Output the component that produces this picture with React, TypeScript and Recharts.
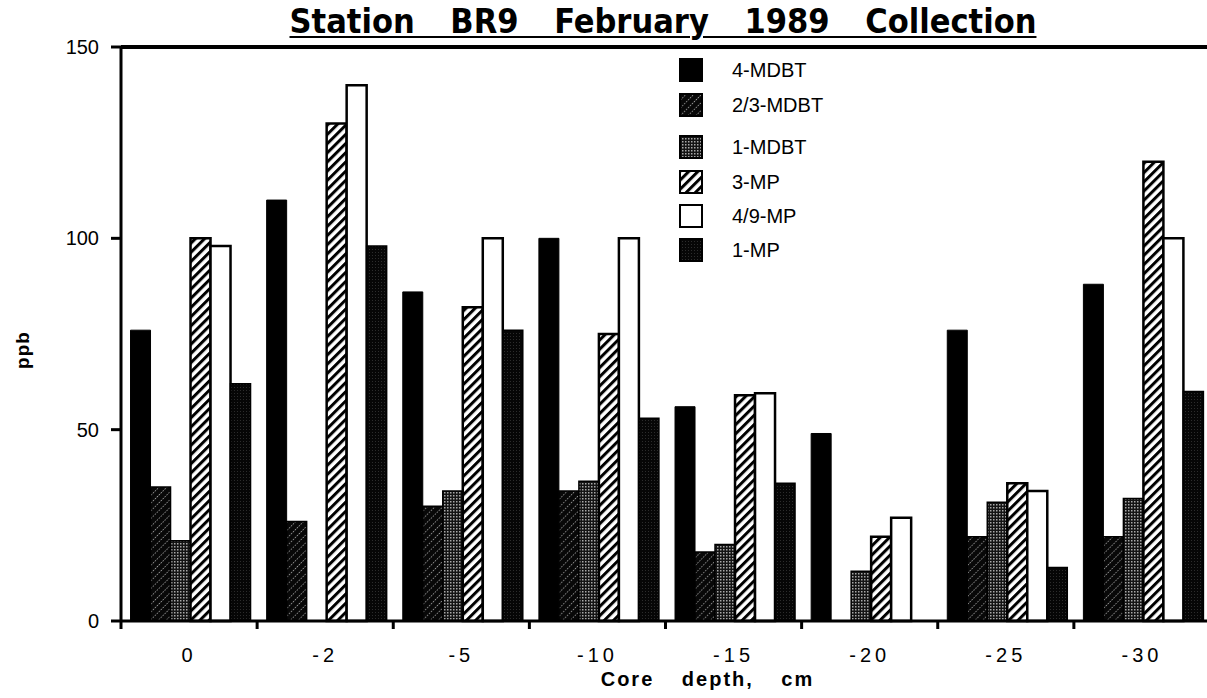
import React from 'react';
import { BarChart, Bar, XAxis, YAxis, ReferenceLine, Legend } from 'recharts';

const categories = ['0', '-2', '-5', '-10', '-15', '-20', '-25', '-30'];
const mdbt4 = [76, 110, 86, 100, 56, 49, 76, 88];
const mdbt23 = [35, 26, 30, 34, 18, null, 22, 22];
const mdbt1 = [21, null, 34, 36.5, 20, 13, 31, 32];
const mp3 = [100, 130, 82, 75, 59, 22, 36, 120];
const mp49 = [98, 140, 100, 100, 59.5, 27, 34, 100];
const mp1 = [62, 98, 76, 53, 36, null, 14, 60];
const yTicks = [0, 50, 100, 150];
const seriesNames = ['4-MDBT', '2/3-MDBT', '1-MDBT', '3-MP', '4/9-MP', '1-MP'];
const seriesKeys = ['mdbt4', 'mdbt23', 'mdbt1', 'mp3', 'mp49', 'mp1'];
const fills = ['#000000', 'url(#p23)', 'url(#p1m)', 'url(#p3mp)', '#ffffff', 'url(#p1mp)'];
const strokeWidths = [1, 1.5, 1.5, 2.5, 2.5, 1.5];

const data = categories.map((c, i) => ({
  cat: c,
  mdbt4: mdbt4[i],
  mdbt23: mdbt23[i],
  mdbt1: mdbt1[i],
  mp3: mp3[i],
  mp49: mp49[i],
  mp1: mp1[i],
}));

const SANS = '"Liberation Sans", Arial, Helvetica, sans-serif';
const NARROW = '"Liberation Sans Narrow", "DejaVu Sans Condensed", "Liberation Sans", sans-serif';

const XTick = (props: any) => {
  const { x, y, payload, width } = props;
  const half = payload && payload.offset ? payload.offset : width / categories.length / 2;
  return (
    <g>
      <line x1={x - half} x2={x - half} y1={y} y2={y + 8} stroke="#000" strokeWidth={3} />
      <text x={x} y={y + 41} textAnchor="middle" fontSize={20} fontFamily={SANS} letterSpacing={4} fill="#000">
        {payload.value}
      </text>
    </g>
  );
};

const legendOffsets = [0, 35, 77, 112, 146, 180];

const LegendContent = () => (
  <div style={{ position: 'relative', width: 200, height: 210, fontFamily: SANS, fontSize: 20, color: '#000' }}>
    {seriesNames.map((n, i) => (
      <div key={n} style={{ position: 'absolute', left: 0, top: legendOffsets[i], height: 36, display: 'flex', alignItems: 'center' }}>
        <svg width={24} height={24} style={{ display: 'block' }}>
          <rect x={1} y={1} width={22} height={22} fill={fills[i]} stroke="#000" strokeWidth={2} />
        </svg>
        <span style={{ marginLeft: 29, whiteSpace: 'nowrap' }}>{n}</span>
      </div>
    ))}
  </div>
);

export default function App() {
  return (
    <div style={{ position: 'absolute', left: 0, top: 0, width: 1207, height: 698, overflow: 'hidden', background: '#fff' }}>
      <BarChart
        width={1210}
        height={698}
        data={data}
        margin={{ top: 47, right: 0, bottom: 0, left: 0 }}
        barCategoryGap="7%"
        barGap={0}
      >
        <defs>
          <pattern id="p23" patternUnits="userSpaceOnUse" width={5.5} height={5.5} patternTransform="rotate(45)">
            <rect width={5.5} height={5.5} fill="#080808" />
            <line x1={0} y1={0} x2={0} y2={5.5} stroke="#bcbcbc" strokeWidth={1.5} strokeDasharray="1.4 1.3" />
          </pattern>
          <pattern id="p1m" patternUnits="userSpaceOnUse" width={3} height={3}>
            <rect width={3} height={3} fill="#141414" />
            <rect width={1.5} height={1.5} fill="#a8a8a8" />
          </pattern>
          <pattern id="p3mp" patternUnits="userSpaceOnUse" width={6.5} height={6.5} patternTransform="rotate(45)">
            <rect width={6.5} height={6.5} fill="#ffffff" />
            <rect width={3} height={6.5} fill="#000000" />
          </pattern>
          <pattern id="p1mp" patternUnits="userSpaceOnUse" width={3} height={3}>
            <rect width={3} height={3} fill="#060606" />
            <rect width={1} height={1} fill="#2c2c2c" />
          </pattern>
        </defs>
        <XAxis
          dataKey="cat"
          interval={0}
          height={77}
          tickLine={false}
          tickSize={0}
          tickMargin={0}
          axisLine={{ stroke: '#000', strokeWidth: 3 }}
          tick={<XTick />}
          label={{
            content: (p: any) => {
              const vb = p.viewBox || { x: 121, y: 621, width: 1089, height: 77 };
              return (
                <text
                  x={vb.x + vb.width / 2 + 42}
                  y={vb.y + 65}
                  textAnchor="middle"
                  fontSize={20}
                  fontWeight="bold"
                  fontFamily={SANS}
                  letterSpacing={2}
                  wordSpacing={20}
                  fill="#000"
                >
                  Core depth, cm
                </text>
              );
            },
          }}
        />
        <YAxis
          width={121}
          domain={[0, 150]}
          ticks={yTicks}
          interval={0}
          tickSize={10}
          tickMargin={12}
          axisLine={{ stroke: '#000', strokeWidth: 3 }}
          tickLine={{ stroke: '#000', strokeWidth: 3 }}
          tick={{ fill: '#000', fontSize: 20, fontFamily: SANS }}
          label={{
            content: (p: any) => {
              const vb = p.viewBox || { x: 0, y: 47, width: 121, height: 574 };
              const cx = vb.x + 22;
              const cy = vb.y + vb.height / 2 + 16;
              return (
                <text
                  x={cx}
                  y={cy}
                  transform={`rotate(-90 ${cx} ${cy})`}
                  textAnchor="middle"
                  dominantBaseline="central"
                  fontSize={19}
                  fontWeight="bold"
                  fontFamily={SANS}
                  letterSpacing={1}
                  fill="#000"
                >
                  ppb
                </text>
              );
            },
          }}
        />
        <ReferenceLine y={150} stroke="#000" strokeWidth={4} />
        <Legend
          layout="vertical"
          align="center"
          verticalAlign="middle"
          content={<LegendContent />}
          wrapperStyle={{ position: 'absolute', left: 679, top: 52, width: 200, height: 215 }}
        />
        {seriesKeys.map((k, i) => (
          <Bar
            key={k}
            dataKey={k}
            name={seriesNames[i]}
            fill={fills[i]}
            stroke="#000"
            strokeWidth={strokeWidths[i]}
            isAnimationActive={false}
          />
        ))}
      </BarChart>
      <div
        style={{
          position: 'absolute',
          left: 0,
          top: 1,
          width: 1326,
          textAlign: 'center',
          fontFamily: NARROW,
          fontWeight: 'bold',
          fontSize: 34,
          lineHeight: '40px',
          wordSpacing: 25,
          color: '#000',
          textDecoration: 'underline',
          textDecorationThickness: 2,
          textUnderlineOffset: 3,
        }}
      >
        Station BR9 February 1989 Collection
      </div>
    </div>
  );
}
